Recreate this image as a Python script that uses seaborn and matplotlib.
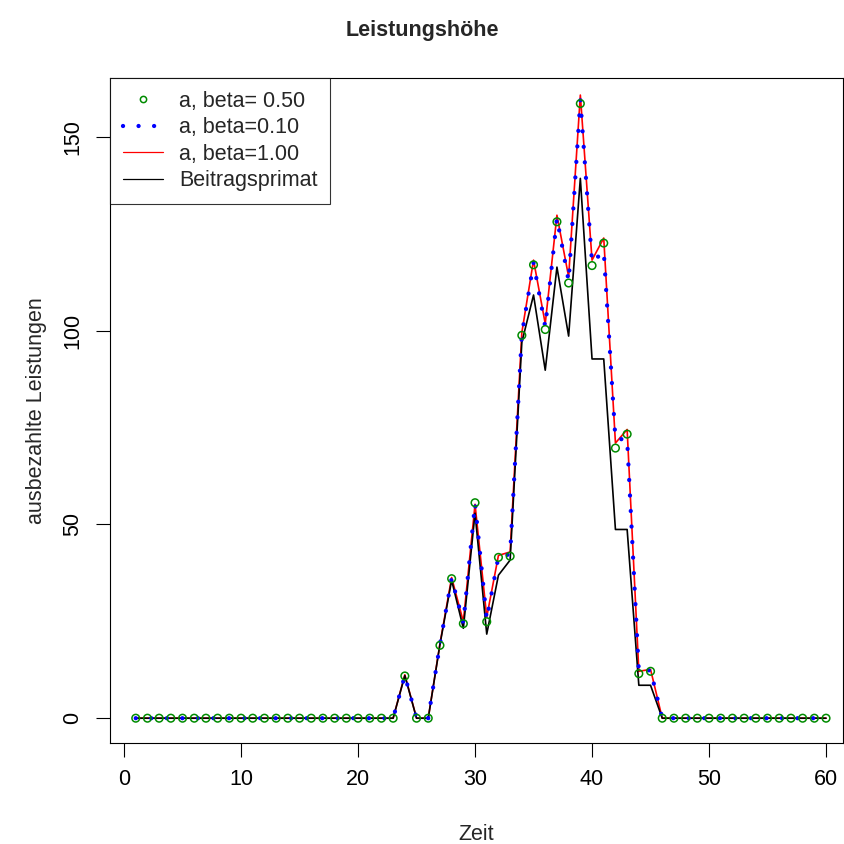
import numpy as np
import pandas as pd
import matplotlib
matplotlib.use("Agg")
import matplotlib.pyplot as plt
import seaborn as sns
from matplotlib.lines import Line2D

# Zeitachse 1..60
zeit = list(range(1, 61))

nullen_vor = [0.0] * 23   # Zeit 1..23
nullen_nach = [0.0] * 15  # Zeit 46..60

# Werte Zeit 24..45
beta_050 = [10.9, 0, 0, 18.8, 36.0, 24.4, 55.6, 24.9, 41.5, 41.8, 98.8,
            117.0, 100.3, 128.1, 112.3, 158.6, 116.8, 122.6, 69.7, 73.3, 11.5, 12.1]
beta_010 = [11.0, 0, 0, 19.0, 36.1, 24.6, 55.4, 25.5, 41.7, 42.3, 99.0,
            117.5, 101.0, 129.0, 112.8, 159.5, 117.6, 120.5, 72.0, 72.0, 12.0, 12.4]
beta_100 = [11.2, 0, 0, 19.2, 36.3, 24.9, 55.2, 26.1, 42.0, 42.9, 99.5,
            118.2, 101.8, 129.8, 113.9, 160.8, 118.2, 123.9, 71.0, 74.5, 12.1, 12.6]
beitragsprimat = [11.0, 0, 0, 19.0, 35.6, 23.2, 52.9, 21.7, 36.9, 40.8, 97.0,
                  109.2, 89.8, 116.4, 98.6, 139.3, 92.7, 92.7, 48.7, 48.7, 8.5, 8.5]

df = pd.DataFrame({
    "Zeit": zeit,
    "b050": nullen_vor + beta_050 + nullen_nach,
    "b010": nullen_vor + beta_010 + nullen_nach,
    "b100": nullen_vor + beta_100 + nullen_nach,
    "bp": nullen_vor + beitragsprimat + nullen_nach,
})

sns.set_style("white")
plt.rcParams["font.family"] = ["Liberation Sans", "DejaVu Sans"]
fs = 15.5
punkte = (0, (0.01, 3.6))  # blaue Punktlinie

fig = plt.figure(figsize=(8.44, 8.44), dpi=100)
ax = fig.add_axes([110 / 844, 101 / 844, 733 / 844, 665 / 844])

sns.lineplot(data=df, x="Zeit", y="b100", color="#FF0000", lw=1.2, ax=ax,
             estimator=None, sort=False, zorder=2)
sns.lineplot(data=df, x="Zeit", y="bp", color="black", lw=1.2, ax=ax,
             estimator=None, sort=False, zorder=3)
sns.lineplot(data=df, x="Zeit", y="b010", color="#0000FF", lw=3.1, ax=ax,
             estimator=None, sort=False, zorder=4, linestyle=punkte,
             dash_capstyle="round")
sns.scatterplot(data=df, x="Zeit", y="b050", ax=ax, marker="o", s=30,
                facecolor="none", edgecolor="#008B00", linewidth=1.1, zorder=5)

ax.set_xlim(-1.2, 61.45)
ax.set_ylim(-6.4, 165.2)
ax.set_xticks([0, 10, 20, 30, 40, 50, 60])
ax.set_yticks([0, 50, 100, 150])
ax.tick_params(axis="both", direction="out", length=10, width=0.8,
               labelsize=fs, colors="black", pad=9, bottom=True, left=True)
for lab in ax.get_yticklabels():
    lab.set_rotation(90)
    lab.set_va("center")
for sp in ax.spines.values():
    sp.set_visible(True)
    sp.set_color("black")
    sp.set_linewidth(0.8)

ax.set_xlabel("Zeit", fontsize=fs, labelpad=24)
ax.set_ylabel("ausbezahlte Leistungen", fontsize=fs, labelpad=11)
fig.suptitle("Leistungshöhe", fontsize=15.5, fontweight="bold", y=0.976)

handles = [
    Line2D([], [], ls="none", marker="o", mfc="none", mec="#008B00", ms=4.5, mew=1.1),
    Line2D([], [], color="#0000FF", lw=3.1, ls=punkte, dash_capstyle="round"),
    Line2D([], [], color="#FF0000", lw=0.9),
    Line2D([], [], color="black", lw=0.9),
]
labels = ["a, beta= 0.50", "a, beta=0.10", "a, beta=1.00", "Beitragsprimat"]
leg = ax.legend(handles, labels, loc="upper left", bbox_to_anchor=(0, 1),
                borderaxespad=0, fontsize=fs, frameon=True, fancybox=False,
                edgecolor="black", handlelength=1.85, handletextpad=0.75,
                labelspacing=0.25, borderpad=0.6)
leg.get_frame().set_linewidth(0.8)

fig.savefig("out.png", dpi=100)
